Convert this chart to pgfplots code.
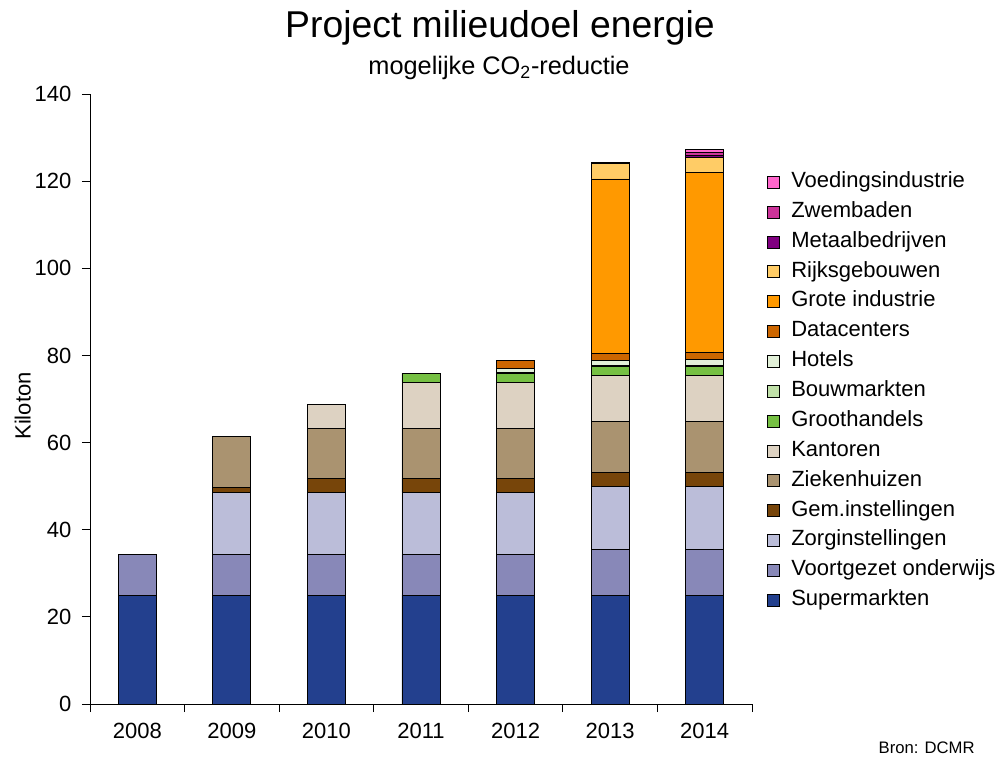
\documentclass[border=0pt]{standalone}
\usepackage{fontspec}
\setmainfont{Liberation Sans}
\usepackage{pgfplots}
\pgfplotsset{compat=1.18}
\definecolor{cSup}{HTML}{23408E}
\definecolor{cVoo}{HTML}{8888B8}
\definecolor{cZor}{HTML}{BBBDD9}
\definecolor{cGem}{HTML}{77450A}
\definecolor{cZie}{HTML}{AA9370}
\definecolor{cKan}{HTML}{DDD2C2}
\definecolor{cGro}{HTML}{76C043}
\definecolor{cBou}{HTML}{C0E0A8}
\definecolor{cHot}{HTML}{E2F0D8}
\definecolor{cDat}{HTML}{CC6600}
\definecolor{cGin}{HTML}{FF9900}
\definecolor{cRij}{HTML}{FFCC66}
\definecolor{cMet}{HTML}{800080}
\definecolor{cZwe}{HTML}{CC3399}
\definecolor{cVoe}{HTML}{FF66CC}
\begin{document}
\begin{tikzpicture}
\useasboundingbox (-67.5pt,-40.5pt) rectangle (681pt,528pt);
\begin{axis}[
  at={(0,0)}, anchor=south west,
  scale only axis, width=496.5pt, height=457.5pt,
  ybar stacked, bar width=28.5pt,
  xmin=-0.5, xmax=6.5, ymin=0, ymax=140,
  axis lines*=left,
  axis line style={black, line width=0.6pt},
  xtick={-0.5,0.5,...,6.5}, xticklabels={},
  extra x ticks={0,1,2,3,4,5,6},
  extra x tick labels={2008,2009,2010,2011,2012,2013,2014},
  extra x tick style={major tick length=0pt},
  ytick={0,20,...,140},
  tick align=outside, major tick length=6pt,
  tick style={black, line width=0.6pt},
  tick label style={font=\fontsize{16.5}{19}\selectfont},
  xticklabel style={yshift=-10.5pt},
  yticklabel style={xshift=-4.5pt},
  /pgf/number format/assume math mode=true,
  reverse legend,
  legend style={draw=none, fill=none, at={(1.016,0.881)}, anchor=north west,
    font=\fontsize{16.5}{19}\selectfont, row sep=3.4pt,
    nodes={inner sep=2pt, text height=11.5pt, text depth=3.5pt},
    cells={anchor=west}},
  sq/.style={fill=#1, draw=black, line width=0.6pt,
    legend image code/.code={\draw[fill=#1, draw=black, line width=0.6pt] (0pt,-4.5pt) rectangle (9pt,4.5pt); \path[draw=none, fill=none] (0pt,0pt) -- (16pt,0pt);}},
]
\addplot[sq=cSup] coordinates {(0,25) (1,25) (2,25) (3,25) (4,25) (5,25) (6,25)};
\addlegendentry{Supermarkten}
\addplot[sq=cVoo] coordinates {(0,9.3) (1,9.3) (2,9.3) (3,9.3) (4,9.3) (5,10.5) (6,10.5)};
\addlegendentry{Voortgezet onderwijs}
\addplot[sq=cZor] coordinates {(0,0) (1,14.2) (2,14.2) (3,14.2) (4,14.2) (5,14.5) (6,14.5)};
\addlegendentry{Zorginstellingen}
\addplot[sq=cGem] coordinates {(0,0) (1,1.3) (2,3.3) (3,3.3) (4,3.3) (5,3.2) (6,3.2)};
\addlegendentry{Gem.instellingen}
\addplot[sq=cZie] coordinates {(0,0) (1,11.7) (2,11.4) (3,11.5) (4,11.5) (5,11.7) (6,11.7)};
\addlegendentry{Ziekenhuizen}
\addplot[sq=cKan] coordinates {(0,0) (1,0) (2,5.6) (3,10.5) (4,10.5) (5,10.5) (6,10.5)};
\addlegendentry{Kantoren}
\addplot[sq=cGro] coordinates {(0,0) (1,0) (2,0) (3,2.1) (4,2.1) (5,2.1) (6,2.1)};
\addlegendentry{Groothandels}
\addplot[sq=cBou] coordinates {(0,0) (1,0) (2,0) (3,0) (4,0.2) (5,0.2) (6,0.2)};
\addlegendentry{Bouwmarkten}
\addplot[sq=cHot] coordinates {(0,0) (1,0) (2,0) (3,0) (4,1.0) (5,1.2) (6,1.4)};
\addlegendentry{Hotels}
\addplot[sq=cDat] coordinates {(0,0) (1,0) (2,0) (3,0) (4,1.7) (5,1.6) (6,1.5)};
\addlegendentry{Datacenters}
\addplot[sq=cGin] coordinates {(0,0) (1,0) (2,0) (3,0) (4,0) (5,40.0) (6,41.3)};
\addlegendentry{Grote industrie}
\addplot[sq=cRij] coordinates {(0,0) (1,0) (2,0) (3,0) (4,0) (5,3.5) (6,3.6)};
\addlegendentry{Rijksgebouwen}
\addplot[sq=cMet] coordinates {(0,0) (1,0) (2,0) (3,0) (4,0) (5,0.2) (6,0.4)};
\addlegendentry{Metaalbedrijven}
\addplot[sq=cZwe] coordinates {(0,0) (1,0) (2,0) (3,0) (4,0) (5,0) (6,0.8)};
\addlegendentry{Zwembaden}
\addplot[sq=cVoe] coordinates {(0,0) (1,0) (2,0) (3,0) (4,0) (5,0) (6,0.7)};
\addlegendentry{Voedingsindustrie}
\end{axis}
\node[font=\fontsize{28}{32}\selectfont] at (307.5pt,507pt) {Project milieudoel energie};
\node[font=\fontsize{19}{22}\selectfont] at (306.75pt,477pt) {mogelijke CO\textsubscript{2}-reductie};
\node[rotate=90, font=\fontsize{16.5}{19}\selectfont] at (-50.5pt,223.5pt) {Kiloton};
\node[anchor=east, font=\fontsize{12.5}{15}\selectfont] at (667pt,-33pt) {Bron: DCMR};
\end{tikzpicture}
\end{document}
